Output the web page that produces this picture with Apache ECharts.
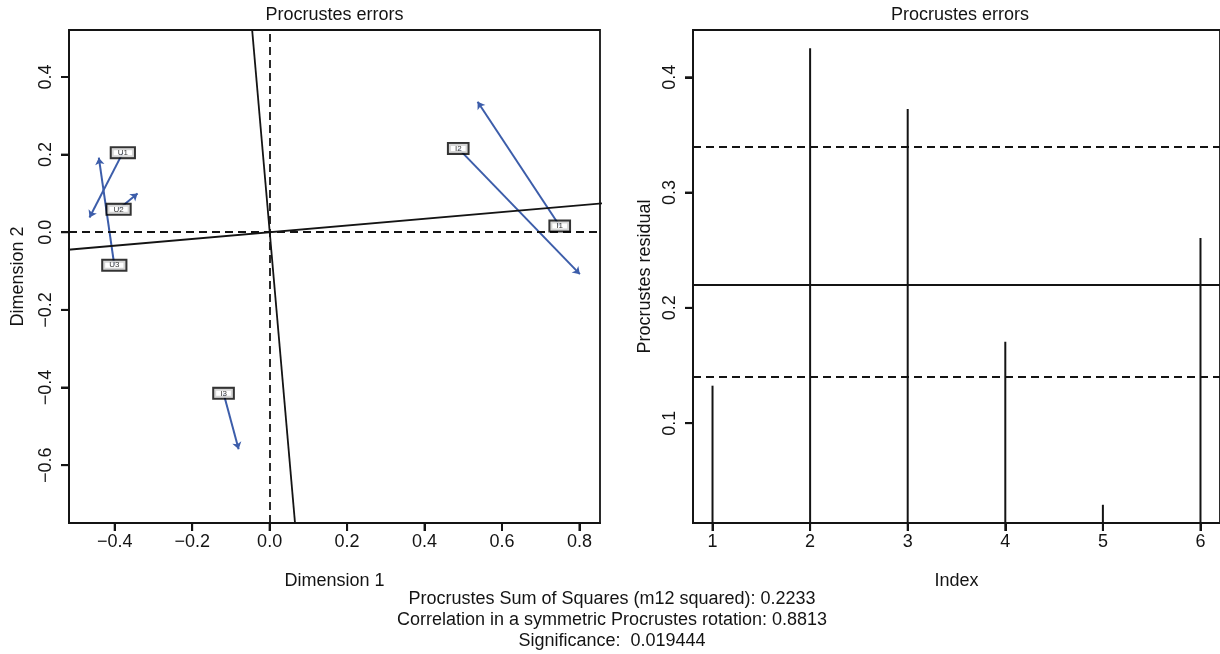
<!DOCTYPE html>
<html>
<head>
<meta charset="utf-8">
<title>Procrustes errors</title>
<script src="https://cdn.jsdelivr.net/npm/echarts@6/dist/echarts.min.js"></script>
<style>
  html, body { margin: 0; padding: 0; background: #fff; }
  #main { width: 1220px; height: 654px; }
</style>
</head>
<body>
<div id="main"></div>
<script>
// left panel: label positions (rotated points) and arrow ends (target points)
var pointNames = ['U1', 'U2', 'U3', 'I1', 'I2', 'I3'];
var labelX = [-0.379, -0.390, -0.401, 0.749, 0.487, -0.119];
var labelY = [0.205, 0.059, -0.085, 0.016, 0.216, -0.415];
var arrowX = [-0.465, -0.341, -0.441, 0.537, 0.801, -0.080];
var arrowY = [0.038, 0.100, 0.192, 0.336, -0.108, -0.559];
// rotation axes, end points
var rotAxisH = [[-0.6, -0.052], [0.9, 0.078]];
var rotAxisV = [[0.070, -0.8], [-0.052, 0.6]];
var dimTicksX = [-0.4, -0.2, 0.0, 0.2, 0.4, 0.6, 0.8];
var dimTicksY = [-0.6, -0.4, -0.2, 0.0, 0.2, 0.4];

// right panel: residuals by index
var residIndex = [1, 2, 3, 4, 5, 6];
var residuals = [0.1325, 0.4252, 0.3725, 0.1706, 0.0292, 0.2605];
var residQuantiles = [0.1420, 0.2156, 0.3445];   // 25%, median, 75%
var residTicksY = [0.1, 0.2, 0.3, 0.4];

var footLines = [
  'Procrustes Sum of Squares (m12 squared): 0.2233',
  'Correlation in a symmetric Procrustes rotation: 0.8813',
  'Significance:  0.019444'
];

var FONT = 'Liberation Sans';
var INK = '#141414';
var BLUE = '#3c5daa';

// axis ranges
var dimXMin = -0.518, dimXMax = 0.853, dimYMin = -0.749, dimYMax = 0.521;
var idxMin = 0.8, idxMax = 6.2, resMin = 0.0134, resMax = 0.441;

function dimFmt(v) { return v.toFixed(1).replace('-', '\u2212'); }

function tickOpt(vals) {
  return { show: true, length: 8, customValues: vals, lineStyle: { color: INK, width: 2 } };
}
function lineOpt() {
  return { show: true, onZero: false, lineStyle: { color: INK, width: 1.8 } };
}
function labelOpt(vals, extra) {
  return Object.assign({ customValues: vals, color: INK, fontFamily: FONT, fontSize: 18 }, extra);
}
var nameBase = { color: INK, fontFamily: FONT, fontSize: 18 };
var dashed = { color: INK, width: 1.8, type: [8, 5] };

var myChart = echarts.init(document.getElementById('main'));

var option = {
  animation: false,
  backgroundColor: '#fff',
  grid: [
    { left: 69, top: 30, width: 531, height: 493, show: true, borderColor: INK, borderWidth: 1.8, backgroundColor: 'transparent' },
    { left: 693, top: 30, width: 531, height: 493, show: true, borderColor: INK, borderWidth: 1.8, backgroundColor: 'transparent' }
  ],
  xAxis: [
    {
      gridIndex: 0, type: 'value', min: dimXMin, max: dimXMax,
      axisLine: lineOpt(), splitLine: { show: false }, axisTick: tickOpt(dimTicksX),
      axisLabel: labelOpt(dimTicksX, { margin: 10, formatter: dimFmt }),
      name: 'Dimension 1', nameLocation: 'middle', nameGap: 49, nameTextStyle: nameBase
    },
    {
      gridIndex: 1, type: 'value', min: idxMin, max: idxMax,
      axisLine: lineOpt(), splitLine: { show: false }, axisTick: tickOpt(residIndex),
      axisLabel: labelOpt(residIndex, { margin: 10, formatter: function (v) { return String(v); } }),
      name: 'Index', nameLocation: 'middle', nameGap: 49, nameTextStyle: nameBase
    }
  ],
  yAxis: [
    {
      gridIndex: 0, type: 'value', min: dimYMin, max: dimYMax,
      axisLine: lineOpt(), splitLine: { show: false }, axisTick: tickOpt(dimTicksY),
      axisLabel: labelOpt(dimTicksY, { margin: 14, rotate: 90, formatter: dimFmt }),
      name: 'Dimension 2', nameLocation: 'middle', nameGap: 42, nameTextStyle: nameBase
    },
    {
      gridIndex: 1, type: 'value', min: resMin, max: resMax,
      axisLine: lineOpt(), splitLine: { show: false }, axisTick: tickOpt(residTicksY),
      axisLabel: labelOpt(residTicksY, { margin: 14, rotate: 90, formatter: function (v) { return v.toFixed(1); } }),
      name: 'Procrustes residual', nameLocation: 'middle', nameGap: 39, nameTextStyle: nameBase
    }
  ],
  graphic: [],
  series: []
};

// titles and footnote
option.graphic.push(
  { type: 'text', x: 334.5, y: 15, style: { text: 'Procrustes errors', fill: INK, font: '18px ' + FONT, textAlign: 'center', textVerticalAlign: 'middle' } },
  { type: 'text', x: 960, y: 15, style: { text: 'Procrustes errors', fill: INK, font: '18px ' + FONT, textAlign: 'center', textVerticalAlign: 'middle' } }
);
footLines.forEach(function (t, i) {
  option.graphic.push({ type: 'text', x: 612, y: 599 + i * 21, style: { text: t, fill: INK, font: '18px ' + FONT, textAlign: 'center', textVerticalAlign: 'middle' } });
});

// left panel series
option.series.push({
  type: 'line', xAxisIndex: 0, yAxisIndex: 0, data: rotAxisH, showSymbol: false, clip: true,
  lineStyle: { color: INK, width: 1.8 }, silent: true,
  markLine: {
    silent: true, symbol: 'none', label: { show: false },
    lineStyle: dashed,
    data: [{ xAxis: 0 }, { yAxis: 0 }]
  }
});
option.series.push({
  type: 'line', xAxisIndex: 0, yAxisIndex: 0, data: rotAxisV, showSymbol: false, clip: true,
  lineStyle: { color: INK, width: 1.8 }, silent: true
});
option.series.push({
  type: 'lines', coordinateSystem: 'cartesian2d', xAxisIndex: 0, yAxisIndex: 0,
  symbol: ['none', 'arrow'], symbolSize: 7, silent: true,
  lineStyle: { color: BLUE, width: 2, opacity: 1, curveness: 0 },
  data: pointNames.map(function (n, i) {
    return { coords: [[labelX[i], labelY[i]], [arrowX[i], arrowY[i]]] };
  })
});
option.series.push({
  type: 'scatter', xAxisIndex: 0, yAxisIndex: 0, z: 10, symbol: 'circle', symbolSize: 1, silent: true,
  itemStyle: { color: 'rgba(255,255,255,0)' },
  label: {
    show: true, position: 'inside', formatter: '{b}', color: '#000', fontFamily: FONT, fontSize: 8,
    backgroundColor: '#fff', borderColor: '#000', borderWidth: 2, padding: [1, 6, 0, 6]
  },
  data: pointNames.map(function (n, i) { return { name: n, value: [labelX[i], labelY[i]] }; })
});

// right panel series
option.series.push({
  type: 'bar', xAxisIndex: 1, yAxisIndex: 1, barWidth: 2, clip: true, silent: true,
  itemStyle: { color: INK },
  data: residIndex.map(function (x, i) { return [x, residuals[i]]; }),
  markLine: {
    silent: true, symbol: 'none', label: { show: false },
    data: [
      { yAxis: residQuantiles[0], lineStyle: dashed },
      { yAxis: residQuantiles[1], lineStyle: { color: INK, width: 1.8, type: 'solid' } },
      { yAxis: residQuantiles[2], lineStyle: dashed }
    ]
  }
});

myChart.setOption(option);

// outward tick marks, positioned through the chart's own axis scales
var tickMarks = [];
function addTicks(gridIndex, vals, fixed, alongX) {
  vals.forEach(function (v) {
    var p = myChart.convertToPixel({ gridIndex: gridIndex }, alongX ? [v, fixed] : [fixed, v]);
    if (!p) return;
    var shape = alongX
      ? { x1: p[0], y1: p[1], x2: p[0], y2: p[1] + 8 }
      : { x1: p[0], y1: p[1], x2: p[0] - 8, y2: p[1] };
    tickMarks.push({ type: 'line', z: 100, silent: true, shape: shape, style: { stroke: INK, lineWidth: 2 } });
  });
}
addTicks(0, dimTicksX, dimYMin, true);
addTicks(0, dimTicksY, dimXMin, false);
addTicks(1, residIndex, resMin, true);
addTicks(1, residTicksY, idxMin, false);

myChart.setOption({ graphic: option.graphic.concat(tickMarks) });
</script>
</body>
</html>
